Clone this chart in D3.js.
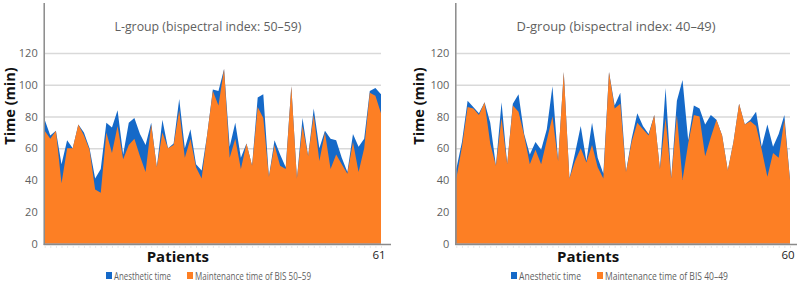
<!DOCTYPE html>
<html>
<head>
<meta charset="utf-8">
<script src="https://cdn.jsdelivr.net/npm/d3@7"></script>
<style>
  body { margin: 0; background: #fff; }
  svg text { font-family: "Open Sans", "Liberation Sans", sans-serif; }
</style>
</head>
<body>
<svg id="chart" width="803" height="283"></svg>
<script>
// values (minutes), one per patient
var lAnesthetic = [78,68,71,50,65,60,75,70,60,41,47,76,73,84,56,76,79,69,62,76,48,78,60,63,91,60,72,50,46,69,
                   97,96,110,61,76,54,63,49,92,94,42,65,56,48,99,41,79,55,85,60,71,66,65,54,45,69,61,66,96,98,94];
var lMaintenance = [71,66,71,38,60,60,75,68,59,34,32,70,57,74,53,62,66,55,45,75,48,70,60,62,84,54,66,48,41,69,
                    96,87,110,54,66,47,63,49,86,79,42,62,49,47,99,41,74,55,81,52,70,47,56,50,44,64,45,60,95,93,82];
var dAnesthetic = [47,64,90,86,82,89,76,49,89,50,88,94,69,56,64,59,72,99,52,108,41,57,74,52,76,54,44,108,87,95,
                   45,66,82,74,69,81,47,98,41,90,103,65,87,85,75,81,78,68,46,64,88,75,78,83,61,75,61,69,81,40];
var dMaintenance = [41,61,86,85,81,89,63,49,79,50,87,83,68,50,59,50,65,80,52,108,41,52,60,51,62,48,41,108,85,88,
                    45,64,76,72,68,81,47,79,41,81,40,63,81,80,55,67,78,68,46,64,88,75,77,74,59,42,57,54,78,40];
var yTicks = [0, 20, 40, 60, 80, 100, 120];
var seriesNames = ["Anesthetic time", "Maintenance time of  BIS "];

var blue = "#1569c8", orange = "#fd7f24", gridColor = "#d9d9d9", textColor = "#5f5f5f";

var svg = d3.select("#chart");

var panels = [
  { title: "L-group (bispectral index: 50\u201359)", ylabel: "Time (min)", bis: "50\u201359",
    anest: lAnesthetic, maint: lMaintenance,
    x0: 44.7, x1: 381, axisEnd: 391, titleX: 208, titleW: 187, ylabelX: 15,
    leg1: 106, leg1W: 57, leg2: 187, leg2W: 116 },
  { title: "D-group (bispectral index: 40\u201349)", ylabel: "Time  (min)", bis: "40\u201349",
    anest: dAnesthetic, maint: dMaintenance,
    x0: 456.3, x1: 790, axisEnd: 797, titleX: 616, titleW: 199, ylabelX: 424,
    leg1: 511, leg1W: 62, leg2: 597, leg2W: 123 }
];

panels.forEach(function(p){ drawPanel(p); });

function drawPanel(p){
    var n = p.anest.length;
    var g = svg.append("g");

    var x = d3.scaleLinear().domain([0, n - 1]).range([p.x0, p.x1]);
    var y = d3.scaleLinear().domain([0, 120]).range([243.5, 53]);

    // gridlines
    g.append("g")
        .attr('transform', "translate(" + p.x0 + ",0)")
        .call(d3.axisLeft(y).tickValues(yTicks.slice(1)).tickSize(-(p.x1 - p.x0)).tickFormat(""))
        .call(function(a){ a.select(".domain").remove(); })
        .selectAll("line")
        .style('stroke', gridColor)
        .style('stroke-width', "1.5px");

    var area = d3.area()
        .x(function(d, i){ return x(i); })
        .y0(y(0))
        .y1(function(d){ return y(d); });

    g.append("path").datum(p.anest)
        .attr('d', area)
        .style('fill', blue);

    g.append("path").datum(p.maint)
        .attr('d', area)
        .style('fill', orange);

    // y axis labels
    var yAxis = g.append("g")
        .attr('transform', "translate(" + (p.x0 - 7) + ",0)")
        .call(d3.axisLeft(y).tickValues(yTicks).tickSize(0).tickPadding(0));
    yAxis.select(".domain").remove();
    yAxis.selectAll("text")
        .style('font-family', "'Open Sans', sans-serif")
        .style('font-size', "11px")
        .style('fill', textColor);

    // y axis line
    g.append("line")
        .attr('x1', p.x0 - 0.5).attr('x2', p.x0 - 0.5)
        .attr('y1', 3).attr('y2', 245)
        .style('stroke', "#8a8a8a")
        .style('stroke-width', "1.5px");

    // x axis with small ticks at each patient
    var xAxis = g.append("g")
        .attr('transform', "translate(0,244.5)")
        .call(d3.axisBottom(x).tickValues(d3.range(n)).tickSize(3).tickFormat(""));
    xAxis.select(".domain").remove();
    xAxis.selectAll("line")
        .style('stroke', "#cfcfcf")
        .style('stroke-width', "1px")
        .attr('y1', 2);
    g.append("line")
        .attr('x1', p.x0 - 1).attr('x2', p.axisEnd)
        .attr('y1', 244.5).attr('y2', 244.5)
        .style('stroke', "#8a8a8a")
        .style('stroke-width', "1.5px");

    g.append("text")
        .attr('x', x(n - 1) - 2)
        .attr('y', 258.5)
        .attr('text-anchor', "middle")
        .style('font-size', "11.5px")
        .style('fill', "#222")
        .text(n);

    g.append("text")
        .attr('x', p.titleX)
        .attr('y', 31)
        .attr('text-anchor', "middle")
        .attr('textLength', p.titleW)
        .attr('lengthAdjust', "spacingAndGlyphs")
        .style('font-size', "13.5px")
        .style('fill', textColor)
        .text(p.title);

    g.append("text")
        .attr('transform', "translate(" + p.ylabelX + ",106) rotate(-90)")
        .attr('text-anchor', "middle")
        .style('font-size', "14.5px")
        .style('font-weight', "bold")
        .style('fill', "#111")
        .text(p.ylabel);

    g.append("text")
        .attr('x', (p.x0 + p.x1) / 2 - 35)
        .attr('y', 262)
        .attr('text-anchor', "middle")
        .style('font-size', "15px")
        .style('font-weight', "bold")
        .style('fill', "#111")
        .text("Patients");

    // legend
    var legend = [
        { name: seriesNames[0], color: blue, x: p.leg1, w: p.leg1W },
        { name: seriesNames[1] + p.bis, color: orange, x: p.leg2, w: p.leg2W }
    ];
    legend.forEach(function(l){
        g.append("rect")
            .attr('x', l.x).attr('y', 272)
            .attr('width', 6).attr('height', 7)
            .style('fill', l.color);
        g.append("text")
            .attr('x', l.x + 8)
            .attr('y', 280)
            .attr('textLength', l.w)
            .attr('lengthAdjust', "spacingAndGlyphs")
            .style('font-size', "10px")
            .style('fill', textColor)
            .text(l.name);
    });
}
</script>
</body>
</html>
